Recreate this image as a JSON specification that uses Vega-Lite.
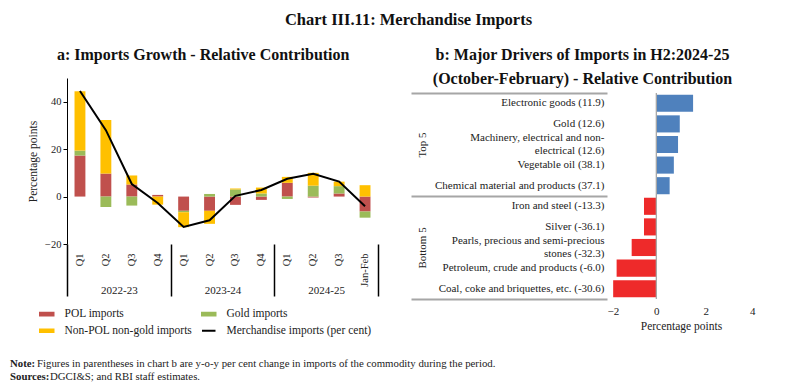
{
  "$schema": "https://vega.github.io/schema/vega-lite/v6.json",
  "padding": {"left": 10, "top": 11, "right": 5, "bottom": 2},
  "title": {"text": "Chart III.11: Merchandise Imports", "anchor": "middle", "fontSize": 16.5, "font": "Liberation Serif", "fontWeight": "bold", "color": "#111", "offset": 19},
  "config": {
    "font": "Liberation Serif",
    "view": {"stroke": null},
    "title": {"font": "Liberation Serif", "fontWeight": "bold", "color": "#111"},
    "axis": {"labelFont": "Liberation Serif", "titleFont": "Liberation Serif", "labelColor": "#222", "titleColor": "#222", "titleFontWeight": "normal", "labelOverlap": false},
    "legend": {"labelFont": "Liberation Serif", "labelColor": "#222"},
    "text": {"font": "Liberation Serif", "color": "#222"}
  },
  "datasets": {
    "growth": [
      {"period": "2022-23 Q1", "comp": "POL imports", "ord": 1, "value": 17.3},
      {"period": "2022-23 Q1", "comp": "Gold imports", "ord": 2, "value": 2.1},
      {"period": "2022-23 Q1", "comp": "Non-POL non-gold imports", "ord": 3, "value": 25.0},
      {"period": "2022-23 Q2", "comp": "POL imports", "ord": 1, "value": 9.7},
      {"period": "2022-23 Q2", "comp": "Gold imports", "ord": 2, "value": -4.4},
      {"period": "2022-23 Q2", "comp": "Non-POL non-gold imports", "ord": 3, "value": 22.6},
      {"period": "2022-23 Q3", "comp": "POL imports", "ord": 1, "value": 5.1},
      {"period": "2022-23 Q3", "comp": "Gold imports", "ord": 2, "value": -3.8},
      {"period": "2022-23 Q3", "comp": "Non-POL non-gold imports", "ord": 3, "value": 3.8},
      {"period": "2022-23 Q4", "comp": "POL imports", "ord": 1, "value": 0.7},
      {"period": "2022-23 Q4", "comp": "Gold imports", "ord": 2, "value": 0.0},
      {"period": "2022-23 Q4", "comp": "Non-POL non-gold imports", "ord": 3, "value": -3.4},
      {"period": "2023-24 Q1", "comp": "POL imports", "ord": 1, "value": -6.0},
      {"period": "2023-24 Q1", "comp": "Gold imports", "ord": 2, "value": -0.6},
      {"period": "2023-24 Q1", "comp": "Non-POL non-gold imports", "ord": 3, "value": -6.3},
      {"period": "2023-24 Q2", "comp": "POL imports", "ord": 1, "value": -6.0},
      {"period": "2023-24 Q2", "comp": "Gold imports", "ord": 2, "value": 1.1},
      {"period": "2023-24 Q2", "comp": "Non-POL non-gold imports", "ord": 3, "value": -5.5},
      {"period": "2023-24 Q3", "comp": "POL imports", "ord": 1, "value": -3.5},
      {"period": "2023-24 Q3", "comp": "Gold imports", "ord": 2, "value": 3.0},
      {"period": "2023-24 Q3", "comp": "Non-POL non-gold imports", "ord": 3, "value": 0.4},
      {"period": "2023-24 Q4", "comp": "POL imports", "ord": 1, "value": -1.4},
      {"period": "2023-24 Q4", "comp": "Gold imports", "ord": 2, "value": 1.3},
      {"period": "2023-24 Q4", "comp": "Non-POL non-gold imports", "ord": 3, "value": 2.5},
      {"period": "2024-25 Q1", "comp": "POL imports", "ord": 1, "value": 5.8},
      {"period": "2024-25 Q1", "comp": "Gold imports", "ord": 2, "value": -1.0},
      {"period": "2024-25 Q1", "comp": "Non-POL non-gold imports", "ord": 3, "value": 2.5},
      {"period": "2024-25 Q2", "comp": "POL imports", "ord": 1, "value": -0.4},
      {"period": "2024-25 Q2", "comp": "Gold imports", "ord": 2, "value": 4.6},
      {"period": "2024-25 Q2", "comp": "Non-POL non-gold imports", "ord": 3, "value": 5.4},
      {"period": "2024-25 Q3", "comp": "POL imports", "ord": 1, "value": 1.3},
      {"period": "2024-25 Q3", "comp": "Gold imports", "ord": 2, "value": 3.1},
      {"period": "2024-25 Q3", "comp": "Non-POL non-gold imports", "ord": 3, "value": 1.9},
      {"period": "2024-25 Jan-Feb", "comp": "POL imports", "ord": 1, "value": -6.3},
      {"period": "2024-25 Jan-Feb", "comp": "Gold imports", "ord": 2, "value": -2.6},
      {"period": "2024-25 Jan-Feb", "comp": "Non-POL non-gold imports", "ord": 3, "value": 4.8}
    ],
    "merch": [
      {"period": "2022-23 Q1", "merch": 44.5},
      {"period": "2022-23 Q2", "merch": 28.0},
      {"period": "2022-23 Q3", "merch": 5.3},
      {"period": "2022-23 Q4", "merch": -2.7},
      {"period": "2023-24 Q1", "merch": -12.8},
      {"period": "2023-24 Q2", "merch": -10.0},
      {"period": "2023-24 Q3", "merch": 0.3},
      {"period": "2023-24 Q4", "merch": 2.8},
      {"period": "2024-25 Q1", "merch": 7.5},
      {"period": "2024-25 Q2", "merch": 9.6},
      {"period": "2024-25 Q3", "merch": 6.3},
      {"period": "2024-25 Jan-Feb", "merch": -4.1}
    ],
    "years": [
      {"year": "2022-23"}, {"year": "2023-24"}, {"year": "2024-25"}
    ],
    "drivers": [
      {"item": "Electronic goods (11.9)", "dir": "pos", "value": 1.49},
      {"item": "Gold (12.6)", "dir": "pos", "value": 0.95},
      {"item": "Machinery, electrical and non-|electrical (12.6)", "dir": "pos", "value": 0.88},
      {"item": "Vegetable oil (38.1)", "dir": "pos", "value": 0.71},
      {"item": "Chemical material and products (37.1)", "dir": "pos", "value": 0.54},
      {"item": "Iron and steel (-13.3)", "dir": "neg", "value": -0.5},
      {"item": "Silver (-36.1)", "dir": "neg", "value": -0.5},
      {"item": "Pearls, precious and semi-precious|stones (-32.3)", "dir": "neg", "value": -1.0},
      {"item": "Petroleum, crude and products (-6.0)", "dir": "neg", "value": -1.61},
      {"item": "Coal, coke and briquettes, etc. (-30.6)", "dir": "neg", "value": -1.75}
    ],
    "groups": [
      {"group": "Top 5"}, {"group": "Bottom 5"}
    ],
    "notes": [
      {"line": 1, "k": "Note:", "t": "Figures in parentheses in chart b are y-o-y per cent change in imports of the commodity during the period."},
      {"line": 2, "k": "Sources:", "t": "DGCI&S; and RBI staff estimates."}
    ]
  },
  "vconcat": [
    {
      "hconcat": [
        {
          "title": {"text": "a: Imports Growth - Relative Contribution", "fontSize": 16, "frame": "bounds", "anchor": "middle", "offset": 15},
          "width": 311,
          "height": 166,
          "layer": [
            {
              "layer": [
                {
                  "data": {"name": "growth"},
                  "mark": {"type": "bar"},
                  "encoding": {
                    "x": {"field": "period", "type": "ordinal", "sort": null,
                      "scale": {"paddingInner": 0.58, "paddingOuter": 0.29},
                      "axis": {"title": null, "labelExpr": "split(datum.value, ' ')[1]", "labelAngle": 270, "labelAlign": "right", "labelBaseline": "middle", "labelPadding": 9, "ticks": false, "domain": false, "labelFontSize": 10.5}},
                    "y": {"field": "value", "type": "quantitative", "stack": "zero",
                      "scale": {"domain": [-20, 50], "nice": false},
                      "axis": {"title": "Percentage points", "values": [-20, -10, 0, 10, 20, 30, 40, 50], "grid": false, "domainColor": "#000", "tickColor": "#000", "tickSize": 4, "labelFontSize": 10.5, "titleFontSize": 11.5, "titlePadding": 6}},
                    "color": {"field": "comp", "type": "nominal",
                      "scale": {"domain": ["POL imports", "Non-POL non-gold imports", "Gold imports", "Merchandise imports (per cent)"], "range": ["#c0504d", "#ffc000", "#9bbb59", "#000000"]},
                      "legend": {
                        "orient": "none", "legendX": -26, "legendY": 230, "columns": 2, "title": null,
                        "labelFontSize": 11.5, "symbolSize": 81, "labelOffset": 12, "columnPadding": 5, "rowPadding": 4, "padding": 0,
                        "encode": {"symbols": {"update": {
                          "shape": {"signal": "datum.value === 'Merchandise imports (per cent)' ? 'M-1.5,0L1.5,0' : 'M-1.5,-0.3L1.5,-0.3L1.5,0.3L-1.5,0.3Z'"},
                          "fill": {"signal": "datum.value === 'POL imports' ? '#c0504d' : datum.value === 'Gold imports' ? '#9bbb59' : datum.value === 'Non-POL non-gold imports' ? '#ffc000' : 'transparent'"},
                          "stroke": {"signal": "datum.value === 'Merchandise imports (per cent)' ? '#000000' : 'transparent'"},
                          "strokeWidth": {"value": 2},
                          "opacity": {"value": 1}
                        }}}
                      }},
                    "order": {"field": "ord", "type": "quantitative"}
                  }
                },
                {
                  "mark": {"type": "rule", "color": "#000", "strokeWidth": 1},
                  "encoding": {"y": {"datum": 0}}
                },
                {
                  "data": {"name": "merch"},
                  "mark": {"type": "line", "strokeWidth": 2},
                  "encoding": {
                    "x": {"field": "period", "type": "ordinal", "sort": null},
                    "y": {"field": "merch", "type": "quantitative"},
                    "color": {"datum": "Merchandise imports (per cent)"}
                  }
                }
              ]
            },
            {
              "data": {"name": "years"},
              "mark": {"type": "tick", "opacity": 0},
              "encoding": {
                "x": {"field": "year", "type": "ordinal", "sort": null,
                  "scale": {"paddingInner": 0, "paddingOuter": 0},
                  "axis": {"orient": "bottom", "title": null, "tickBand": "extent", "tickSize": 52, "tickWidth": 1.5, "tickColor": "#000", "domain": false, "labelPadding": -12, "labelAngle": 0, "labelFontSize": 11}}
              }
            }
          ],
          "resolve": {"scale": {"x": "independent"}, "axis": {"x": "independent"}}
        },
        {
          "title": {"text": ["b: Major Drivers of Imports in H2:2024-25", "(October-February) - Relative Contribution"], "fontSize": 16, "frame": "bounds", "anchor": "middle", "offset": -9, "lineHeight": 24},
          "width": 148,
          "height": 221,
          "layer": [
            {
              "data": {"name": "drivers"},
              "mark": {"type": "bar"},
              "encoding": {
                "y": {"field": "item", "type": "nominal", "sort": null,
                  "scale": {"paddingInner": 0.17, "paddingOuter": 0.449, "align": 0.905},
                  "axis": {"title": null, "labelExpr": "split(datum.value, '|')", "ticks": false, "domain": false, "labelPadding": 3, "labelFontSize": 11, "labelLimit": 260, "labelLineHeight": 13,
                    "labelOffset": {"expr": "indexof(datum.value, '|') >= 0 ? -6.5 : 0"}}},
                "x": {"field": "value", "type": "quantitative",
                  "scale": {"domain": [-2, 4], "nice": false},
                  "axis": {"values": [-2, 0, 2, 4], "grid": false, "domain": false, "ticks": false, "title": "Percentage points", "labelFontSize": 11, "titleFontSize": 11.5, "labelPadding": 6, "titlePadding": 4}},
                "color": {"field": "dir", "type": "nominal", "scale": {"domain": ["pos", "neg"], "range": ["#4f81bd", "#ee2a2a"]}, "legend": null}
              }
            },
            {
              "data": {"name": "groups"},
              "mark": {"type": "bar", "fillOpacity": 0, "stroke": "#a6a6a6", "strokeWidth": 1},
              "encoding": {
                "x": {"datum": 0},
                "x2": {"datum": 0},
                "y": {"field": "group", "type": "nominal", "sort": null,
                  "scale": {"paddingInner": 0, "paddingOuter": 0.0728, "align": 1},
                  "axis": {"orient": "left", "title": null, "tickBand": "extent", "tickSize": 196, "tickColor": "#a6a6a6", "tickWidth": 2, "domain": false, "labelAngle": 270, "labelPadding": -16, "labelFontSize": 11}}
              }
            }
          ],
          "resolve": {"scale": {"y": "independent"}, "axis": {"y": "independent"}}
        }
      ],
      "spacing": 31,
      "resolve": {"scale": {"color": "independent"}}
    },
    {
      "width": 740,
      "height": 26,
      "data": {"name": "notes"},
      "layer": [
        {
          "mark": {"type": "text", "align": "left", "baseline": "middle", "fontWeight": "bold", "fontSize": 10.8, "dx": -57},
          "encoding": {"y": {"field": "line", "type": "ordinal", "axis": null}, "x": {"value": 0}, "text": {"field": "k"}}
        },
        {
          "transform": [{"filter": "datum.line == 1"}],
          "mark": {"type": "text", "align": "left", "baseline": "middle", "fontSize": 10.8, "dx": -30},
          "encoding": {"y": {"field": "line", "type": "ordinal", "axis": null}, "x": {"value": 0}, "text": {"field": "t"}}
        },
        {
          "transform": [{"filter": "datum.line == 2"}],
          "mark": {"type": "text", "align": "left", "baseline": "middle", "fontSize": 10.8, "dx": -17},
          "encoding": {"y": {"field": "line", "type": "ordinal", "axis": null}, "x": {"value": 0}, "text": {"field": "t"}}
        }
      ]
    }
  ],
  "spacing": 20
}
